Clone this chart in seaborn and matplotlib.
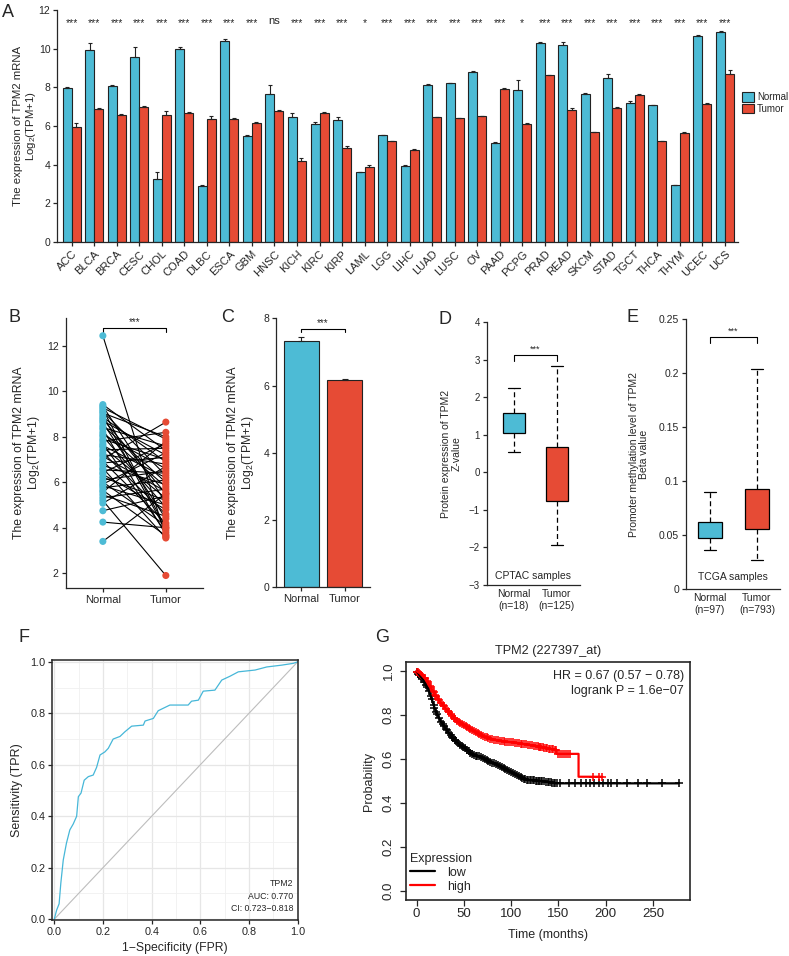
import numpy as np
import pandas as pd
import matplotlib
matplotlib.use('Agg')
import matplotlib.pyplot as plt
from matplotlib.ticker import MultipleLocator, FormatStrFormatter
import seaborn as sns

# ---------------- data ----------------
# A: pan-cancer TPM2 expression (mean, upper error)
cancers = ['ACC', 'BLCA', 'BRCA', 'CESC', 'CHOL', 'COAD', 'DLBC', 'ESCA', 'GBM', 'HNSC',
           'KICH', 'KIRC', 'KIRP', 'LAML', 'LGG', 'LIHC', 'LUAD', 'LUSC', 'OV', 'PAAD',
           'PCPG', 'PRAD', 'READ', 'SKCM', 'STAD', 'TGCT', 'THCA', 'THYM', 'UCEC', 'UCS']
normal_mean = [7.95, 9.92, 8.07, 9.55, 3.26, 9.97, 2.90, 10.41, 5.50, 7.64,
               6.45, 6.10, 6.29, 3.60, 5.52, 3.91, 8.12, 8.21, 8.79, 5.10,
               7.86, 10.28, 10.19, 7.66, 8.50, 7.21, 7.07, 2.93, 10.66, 10.85]
tumor_mean = [5.93, 6.86, 6.57, 6.97, 6.59, 6.69, 6.35, 6.38, 6.14, 6.78,
              4.17, 6.69, 4.88, 3.90, 5.21, 4.76, 6.45, 6.40, 6.50, 7.90,
              6.10, 8.62, 6.83, 5.67, 6.93, 7.60, 5.22, 5.62, 7.12, 8.69]
normal_err = [0.05, 0.36, 0.05, 0.52, 0.34, 0.13, 0.05, 0.07, 0.03, 0.48,
              0.21, 0.10, 0.18, 0.03, 0.03, 0.06, 0.04, 0.04, 0.06, 0.06,
              0.50, 0.08, 0.13, 0.04, 0.19, 0.06, 0.04, 0.04, 0.06, 0.07]
tumor_err = [0.21, 0.07, 0.03, 0.07, 0.19, 0.06, 0.18, 0.05, 0.05, 0.04,
             0.17, 0.04, 0.06, 0.07, 0.03, 0.04, 0.03, 0.02, 0.04, 0.05,
             0.04, 0.03, 0.10, 0.03, 0.06, 0.06, 0.02, 0.06, 0.09, 0.19]
signif = ['***', '***', '***', '***', '***', '***', '***', '***', '***', 'ns',
          '***', '***', '***', '*', '***', '***', '***', '***', '***', '***',
          '*', '***', '***', '***', '***', '***', '***', '***', '***', '***']

# B: paired samples
normal_paired = [12.45, 9.42, 9.35, 9.28, 9.2, 9.12, 9.05, 8.95, 8.86, 8.78,
                 8.7, 8.62, 8.5, 8.41, 8.33, 8.2, 8.1, 8.02, 7.9, 7.81,
                 7.7, 7.62, 7.55, 7.43, 7.31, 7.22, 7.14, 7.02, 6.93, 6.85,
                 6.74, 6.62, 6.55, 6.43, 6.35, 6.22, 6.1, 6.01, 5.92, 5.85,
                 5.76, 5.65, 5.57, 5.45, 5.32, 5.2, 5.08, 4.75, 4.25, 3.4]
tumor_paired = [3.6, 7.4, 5.1, 7.9, 4.0, 6.3, 8.0, 3.9, 6.9, 5.5,
                7.2, 4.4, 6.0, 7.6, 3.7, 5.8, 6.6, 4.9, 7.0, 8.2,
                3.8, 6.2, 5.3, 7.5, 4.6, 6.8, 5.6, 8.65, 4.2, 7.1,
                5.9, 3.55, 6.4, 7.7, 4.8, 5.2, 6.5, 4.1, 7.3, 5.0,
                6.1, 3.65, 7.8, 4.5, 5.7, 1.9, 6.7, 5.4, 4.0, 5.5]

# C: unpaired mean expression
groups = ['Normal', 'Tumor']
c_mean = [7.32, 6.17]
c_err = [0.12, 0.03]

# D: CPTAC protein (min, q1, median, q3, max)
d_normal = [0.55, 1.04, 1.30, 1.57, 2.26]
d_tumor = [-1.94, -0.77, -0.05, 0.67, 2.84]
d_ticklabels = ['Normal\n(n=18)', 'Tumor\n(n=125)']

# E: promoter methylation (min, q1, median, q3, max)
e_normal = [0.036, 0.047, 0.053, 0.062, 0.090]
e_tumor = [0.027, 0.056, 0.070, 0.093, 0.204]
e_ticklabels = ['Normal\n(n=97)', 'Tumor\n(n=793)']

# F: ROC curve
roc_fpr = [0.0, 0.01, 0.02, 0.027, 0.037, 0.05, 0.064, 0.078, 0.092, 0.099, 0.11, 0.123,
           0.14, 0.16, 0.174, 0.188, 0.208, 0.222, 0.242, 0.27, 0.29, 0.318, 0.366, 0.373,
           0.407, 0.427, 0.475, 0.55, 0.564, 0.592, 0.612, 0.66, 0.688, 0.722, 0.756,
           0.825, 0.873, 0.934, 0.982, 1.0]
roc_tpr = [0.0, 0.036, 0.06, 0.14, 0.23, 0.295, 0.347, 0.37, 0.40, 0.476, 0.49, 0.54,
           0.554, 0.56, 0.59, 0.638, 0.65, 0.664, 0.70, 0.71, 0.728, 0.75, 0.754, 0.77,
           0.78, 0.81, 0.832, 0.832, 0.847, 0.851, 0.886, 0.89, 0.929, 0.944, 0.961,
           0.968, 0.98, 0.987, 0.994, 1.0]

# G: Kaplan-Meier
low_time = [0, 7, 12.3, 15.8, 19.3, 24.6, 31.6, 38.6, 45.6, 52.7, 59.7, 70.2, 80.8,
            91.3, 101.8, 110.6, 117.6, 133.4, 147.5, 277]
low_surv = [1.0, 0.96, 0.92, 0.877, 0.83, 0.78, 0.734, 0.696, 0.666, 0.644, 0.621, 0.606,
            0.583, 0.561, 0.538, 0.516, 0.505, 0.50, 0.49, 0.49]
high_time = [0, 3.5, 10.5, 17.6, 26.3, 35.1, 43.9, 52.7, 61.4, 70.2, 80.8, 91.3, 105.3,
             122.9, 137, 148, 148, 171.3, 171.3, 196.6]
high_surv = [1.0, 0.99, 0.96, 0.907, 0.854, 0.809, 0.771, 0.749, 0.726, 0.704, 0.689,
             0.681, 0.674, 0.662, 0.651, 0.641, 0.624, 0.624, 0.52, 0.52]
low_censor = [1, 2, 3, 5, 6, 8, 10, 11, 13, 15, 16, 18, 19, 21, 22, 24, 26, 28, 29, 31,
              32, 34, 36, 38, 39, 41, 42, 44, 46, 48, 49, 51, 53, 55, 57, 59, 61, 63, 64,
              66, 68, 70, 72, 74, 76, 78, 80, 82, 84, 86, 88, 90, 92, 94, 96, 98, 100,
              102, 104, 106, 108, 110, 112, 114, 115, 117, 118, 120, 121, 123, 124, 126,
              127, 129, 130, 132, 133, 135, 137, 139, 140, 142, 143, 145, 146, 148, 152,
              161, 168, 174, 179, 183, 188, 193, 197, 202, 206, 212, 223, 234, 244, 260,
              277]
high_censor = [1, 2, 3, 4, 5, 6, 8, 9, 11, 12, 14, 15, 17, 18, 20, 21, 23, 24, 26, 28,
               29, 31, 33, 34, 36, 38, 40, 41, 43, 45, 46, 48, 50, 52, 53, 55, 57, 59, 61,
               63, 65, 66, 68, 70, 72, 74, 76, 78, 80, 82, 84, 86, 88, 90, 92, 94, 96, 98,
               100, 102, 104, 106, 108, 110, 112, 114, 116, 118, 120, 122, 124, 126, 128,
               129, 131, 132, 134, 135, 137, 138, 140, 141, 143, 144, 146, 147, 150, 152,
               154, 156, 158, 160, 162, 187, 193, 196]

# ---------------- style ----------------
sns.set_style('ticks')
plt.rcParams['font.family'] = ['Liberation Sans', 'DejaVu Sans']
plt.rcParams['mathtext.default'] = 'regular'
plt.rcParams['axes.linewidth'] = 0.9
plt.rcParams['xtick.major.width'] = 0.9
plt.rcParams['ytick.major.width'] = 0.9
plt.rcParams['xtick.major.size'] = 3
plt.rcParams['ytick.major.size'] = 3
plt.rcParams['xtick.major.pad'] = 2
plt.rcParams['ytick.major.pad'] = 2

blue = '#4DBBD5'
red = '#E64B35'
W, H = 789, 956


def box(l, t, r, b):
    return [l / W, 1 - b / H, (r - l) / W, (b - t) / H]


fig = plt.figure(figsize=(W / 100, H / 100), dpi=100)
ylab = 'The expression of TPM2 mRNA\nLog$_2$(TPM+1)'

# ---------------- A ----------------
axA = fig.add_axes(box(57.3, 10, 738.3, 242))
df_a = pd.DataFrame({'cancer': cancers * 2,
                     'group': ['Normal'] * len(cancers) + ['Tumor'] * len(cancers),
                     'expr': normal_mean + tumor_mean})
sns.barplot(data=df_a, x='cancer', y='expr', hue='group', palette=[blue, red],
            saturation=1, width=0.8, errorbar=None, edgecolor='#222222', linewidth=0.8, ax=axA)
for cont, err in zip(axA.containers, [normal_err, tumor_err]):
    xs = [p.get_x() + p.get_width() / 2 for p in cont]
    ys = [p.get_height() for p in cont]
    axA.errorbar(xs, ys, yerr=[np.zeros(len(err)), err], fmt='none', ecolor='#222222',
                 elinewidth=0.8, capsize=1.5, capthick=0.8)
for i, s in enumerate(signif):
    if s == 'ns':
        axA.text(i, 11.45, s, ha='center', va='center', fontsize=8)
    else:
        axA.text(i, 11.3, s, ha='center', va='center', fontsize=7.5)
axA.set_xlim(-0.64, 29.59)
axA.set_ylim(0, 12)
axA.set_yticks([0, 2, 4, 6, 8, 10, 12])
axA.tick_params(axis='y', labelsize=7.5)
axA.tick_params(axis='x', labelsize=8)
plt.setp(axA.get_xticklabels(), rotation=45, ha='right', rotation_mode='anchor')
axA.set_xlabel('')
axA.set_ylabel(ylab, fontsize=8.2, linespacing=1.1)
axA.yaxis.set_label_coords(-0.029, 0.5)
sns.despine(ax=axA)
sns.move_legend(axA, 'upper left', bbox_to_anchor=(1.006, 0.645), frameon=False, title=None,
                fontsize=7, handlelength=1.15, handleheight=1.1, labelspacing=0.15,
                handletextpad=0.35, borderaxespad=0, borderpad=0)

# ---------------- B ----------------
axB = fig.add_axes(box(65.7, 318, 203, 588))
n = len(normal_paired)
df_b = pd.DataFrame({'pair': list(range(n)) * 2, 'pos': [0] * n + [1] * n,
                     'group': ['Normal'] * n + ['Tumor'] * n,
                     'expr': normal_paired + tumor_paired})
sns.lineplot(data=df_b, x='pos', y='expr', units='pair', estimator=None, color='black',
             lw=0.8, ax=axB)
sns.scatterplot(data=df_b, x='pos', y='expr', hue='group', palette=[blue, red], s=26,
                linewidth=0, legend=False, zorder=3, ax=axB)
axB.plot([0, 0, 1, 1], [12.6, 12.78, 12.78, 12.6], color='black', lw=0.8)
axB.text(0.5, 12.82, '***', ha='center', va='bottom', fontsize=7)
axB.set_xlim(-0.59, 1.59)
axB.set_ylim(1.35, 13.23)
axB.set_xticks([0, 1], groups)
axB.set_yticks([2, 4, 6, 8, 10, 12])
axB.tick_params(axis='y', labelsize=7.5)
axB.tick_params(axis='x', labelsize=8)
axB.set_xlabel('')
axB.set_ylabel(ylab, fontsize=8.8, linespacing=1.1)
axB.yaxis.set_label_coords(-0.175, 0.5)
sns.despine(ax=axB)

# ---------------- C ----------------
axC = fig.add_axes(box(276, 318.3, 370, 587.3))
sns.barplot(x=groups, y=c_mean, hue=groups, palette=[blue, red], saturation=1, width=0.8,
            errorbar=None, edgecolor='#222222', linewidth=0.8, legend=False, ax=axC)
cx = [0, 1]
axC.errorbar(cx, c_mean, yerr=[np.zeros(2), c_err], fmt='none', ecolor='#222222',
             elinewidth=0.8, capsize=2, capthick=0.8)
axC.plot([0, 0, 1, 1], [7.6, 7.68, 7.68, 7.6], color='black', lw=0.8)
axC.text(0.5, 7.72, '***', ha='center', va='bottom', fontsize=7)
axC.set_xlim(-0.59, 1.59)
axC.set_ylim(0, 8)
axC.set_yticks([0, 2, 4, 6, 8])
axC.tick_params(axis='y', labelsize=7.5)
axC.tick_params(axis='x', labelsize=8)
axC.set_ylabel(ylab, fontsize=8.8, linespacing=1.1)
axC.yaxis.set_label_coords(-0.213, 0.5)
sns.despine(ax=axC)

# ---------------- D ----------------
axD = fig.add_axes(box(486.7, 322.3, 580, 585))
df_d = pd.DataFrame({'group': ['Normal'] * 5 + ['Tumor'] * 5, 'value': d_normal + d_tumor})
sns.boxplot(data=df_d, x='group', y='value', hue='group', palette=[blue, red], saturation=1,
            width=0.53, whis=(0, 100), linecolor='black', linewidth=0.9, showfliers=False,
            medianprops={'visible': False}, whiskerprops={'linestyle': (0, (4, 2.5))},
            legend=False, ax=axD)
axD.plot([0, 0, 1, 1], [2.98, 3.12, 3.12, 2.98], color='black', lw=0.8)
axD.text(0.5, 3.17, '***', ha='center', va='bottom', fontsize=6.5)
axD.text(0.496, 0.034, 'CPTAC samples', transform=axD.transAxes, ha='center', va='center',
         fontsize=7.5)
axD.set_xlim(-0.635, 1.535)
axD.set_ylim(-3, 4)
axD.set_yticks(range(-3, 5))
axD.set_xticks([0, 1], d_ticklabels)
axD.tick_params(axis='x', length=0, pad=3, labelsize=7.5)
axD.tick_params(axis='y', labelsize=7)
axD.set_xlabel('')
axD.set_ylabel('Protein expression of TPM2\nZ-value', fontsize=7.5, linespacing=1.1)
axD.yaxis.set_label_coords(-0.268, 0.5)
sns.despine(ax=axD)

# ---------------- E ----------------
axE = fig.add_axes(box(686, 319, 780, 589.3))
df_e = pd.DataFrame({'group': ['Normal'] * 5 + ['Tumor'] * 5, 'value': e_normal + e_tumor})
sns.boxplot(data=df_e, x='group', y='value', hue='group', palette=[blue, red], saturation=1,
            width=0.51, whis=(0, 100), linecolor='black', linewidth=0.9, showfliers=False,
            medianprops={'visible': False}, whiskerprops={'linestyle': (0, (4, 2.5))},
            legend=False, ax=axE)
axE.plot([0, 0, 1, 1], [0.228, 0.233, 0.233, 0.228], color='black', lw=0.8)
axE.text(0.5, 0.2345, '***', ha='center', va='bottom', fontsize=6.5)
axE.text(0.128, 0.045, 'TCGA samples', transform=axE.transAxes, ha='left', va='center',
         fontsize=7.5)
axE.set_xlim(-0.51, 1.49)
axE.set_ylim(0, 0.25)
axE.set_yticks([0, 0.05, 0.1, 0.15, 0.2, 0.25], ['0', '0.05', '0.1', '0.15', '0.2', '0.25'])
axE.set_xticks([0, 1], e_ticklabels)
axE.tick_params(axis='x', length=0, pad=3, labelsize=7.5)
axE.tick_params(axis='y', labelsize=7.5)
axE.set_xlabel('')
axE.set_ylabel('Promoter methylation level of TPM2\nBeta value', fontsize=7.5, linespacing=1.1)
axE.yaxis.set_label_coords(-0.39, 0.5)
sns.despine(ax=axE)

# ---------------- F ----------------
axF = fig.add_axes(box(52.3, 660, 297.7, 920))
axF.set_xlim(-0.008, 1.0)
axF.set_ylim(-0.003, 1.007)
axF.xaxis.set_major_locator(MultipleLocator(0.2))
axF.yaxis.set_major_locator(MultipleLocator(0.2))
axF.xaxis.set_minor_locator(MultipleLocator(0.1))
axF.yaxis.set_minor_locator(MultipleLocator(0.1))
axF.grid(which='major', color='#E6E6E6', lw=0.9)
axF.grid(which='minor', color='#F0F0F0', lw=0.6)
axF.set_axisbelow(True)
sns.lineplot(x=[0, 1], y=[0, 1], color='#BDBDBD', lw=0.8, ax=axF)
sns.lineplot(x=roc_fpr, y=roc_tpr, sort=False, estimator=None, color='#46B7D8', lw=0.9, ax=axF)
axF.xaxis.set_major_formatter(FormatStrFormatter('%.1f'))
axF.yaxis.set_major_formatter(FormatStrFormatter('%.1f'))
axF.tick_params(which='minor', length=0)
axF.tick_params(labelsize=7.8)
for t, yy in zip(['TPM2', 'AUC: 0.770', 'CI: 0.723\u22120.818'], [0.142, 0.092, 0.044]):
    axF.text(0.981, yy, t, transform=axF.transAxes, ha='right', va='center', fontsize=6.3)
axF.set_xlabel('1\u2212Specificity (FPR)', fontsize=8.8)
axF.set_ylabel('Sensitivity (TPR)', fontsize=9)
axF.xaxis.set_label_coords(0.5, -0.085)
axF.yaxis.set_label_coords(-0.118, 0.5)
for sp in axF.spines.values():
    sp.set_linewidth(1.1)

# ---------------- G ----------------
axG = fig.add_axes(box(406, 662.3, 690, 900))
sns.lineplot(x=low_time, y=low_surv, sort=False, estimator=None, color='black', lw=1.6,
             label='low', ax=axG)
sns.lineplot(x=high_time, y=high_surv, sort=False, estimator=None, color='red', lw=1.6,
             label='high', ax=axG)
sns.scatterplot(x=low_censor, y=np.interp(low_censor, low_time, low_surv), marker='+',
                color='black', s=36, linewidth=1.1, ax=axG)
sns.scatterplot(x=high_censor, y=np.interp(high_censor, high_time, high_surv), marker='+',
                color='red', s=36, linewidth=1.1, ax=axG)
axG.set_xlim(-11.1, 289.1)
axG.set_ylim(-0.04, 1.04)
axG.set_xticks([0, 50, 100, 150, 200, 250])
axG.set_yticks([0, 0.2, 0.4, 0.6, 0.8, 1.0], ['0.0', '0.2', '0.4', '0.6', '0.8', '1.0'])
plt.setp(axG.get_yticklabels(), rotation=90, va='center')
axG.tick_params(labelsize=9.5, length=4)
axG.tick_params(axis='y', pad=4)
axG.set_title('TPM2 (227397_at)', fontsize=9.2, pad=6)
axG.text(0.979, 0.942, 'HR = 0.67 (0.57 \u2212 0.78)', transform=axG.transAxes, ha='right',
         va='center', fontsize=9)
axG.text(0.979, 0.881, 'logrank P = 1.6e\u221207', transform=axG.transAxes, ha='right',
         va='center', fontsize=9)
axG.legend(title='Expression', loc='lower left', bbox_to_anchor=(0.005, 0.02), frameon=False,
           fontsize=9, title_fontsize=9, alignment='left', handlelength=2.0,
           labelspacing=0.15, borderaxespad=0, borderpad=0.2, handletextpad=1.0)
axG.set_xlabel('Time (months)', fontsize=9)
axG.set_ylabel('Probability', fontsize=9)
axG.xaxis.set_label_coords(0.5, -0.123)
axG.yaxis.set_label_coords(-0.109, 0.5)
for sp in axG.spines.values():
    sp.set_linewidth(1.2)

# panel letters
for letter, (px, py) in zip('ABCDEFG', [(8, 12.5), (14, 317), (228, 318), (445, 320),
                                        (632, 318), (24, 638), (382, 638)]):
    fig.text(px / W, 1 - py / H, letter, ha='center', va='center', fontsize=13)

fig.savefig('out.png', dpi=100)
